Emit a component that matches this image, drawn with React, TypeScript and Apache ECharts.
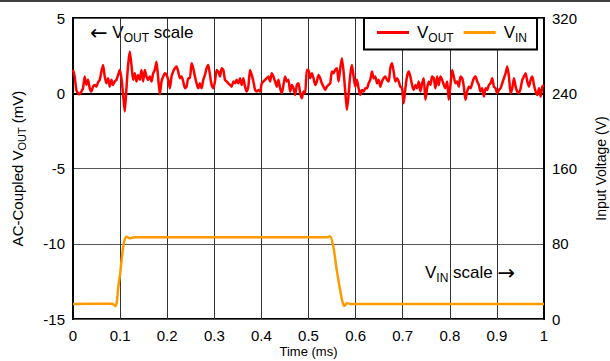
import React, { useEffect, useRef } from "react";
import * as echarts from "echarts";

// Time axis (ms)
const X_MIN = 0;
const X_MAX = 1;
const X_STEP = 0.1;
const X_TITLE = "Time (ms)";
// Left axis: AC-coupled VOUT (mV)
const VOUT_MIN = -15;
const VOUT_MAX = 5;
const VOUT_STEP = 5;
// Right axis: input voltage (V)
const VIN_MIN = 0;
const VIN_MAX = 320;
const VIN_STEP = 80;

// VOUT samples (mV), uniformly spaced from 0 to 1 ms
const voutSamples: number[] = [
  1.55, 1.11, 0.22, 0.0, -0.07, 0.11, 0.33, 1.11, 0.55, 0.89, 0.33, 0.11, 0.44, 0.55, 0.44, 0.73, 0.89, 1.44, 1.88, 1.11,
  0.66, 1.0, 0.44, 0.89, 0.55, 0.78, 0.89, 1.22, 1.55, 1.0, -0.11, -1.22, 0.33, 1.88, 2.77, 1.88, 0.89, 1.33, 0.78, 1.22,
  0.89, 1.55, 0.78, 1.55, 1.11, 0.89, 1.11, 0.78, 1.33, 1.55, 2.1, 1.0, -0.07, 0.78, 1.11, 1.33, 1.22, 0.89, 0.33, 1.11,
  1.44, 1.66, 1.77, 1.44, 1.0, 1.11, 0.78, 0.33, 0.44, 1.0, 1.0, 1.99,
  1.66, 1.11, 0.66, 0.33, 0.66, 0.33, 0.89, 1.22, 1.66, 1.88, 1.22, 0.55, 0.33, 0.78, 1.55, 1.44, 1.11, 1.66, 1.55, 0.89,
  0.78, 0.66, 0.55, 0.44, 0.78, 0.66, 0.89, 0.66, 1.0, 0.55, 1.0, 0.44, 0.11, 0.44, 1.55, 1.22, 0.78, 0.22, 0.11, 0.22,
  0.11, 0.66, 0.78, 0.89, 1.0, 1.11, 0.78, 1.33, 1.11, 0.78, 0.44, 0.89, 0.33, 0.0, 0.55, 1.11, 0.78, 0.89, 0.11, 0.55,
  0.33, -0.11, 0.55, 0.66, 0.0, -0.33, 0.11, 0.0, 1.55, 1.55, 1.0,
  1.33, 1.0, 0.55, 0.78, 1.22, 1.0, 0.66, 0.44, 0.22, 0.44, 0.55, 0.66, 1.44, 1.33, 1.55, 1.66, 0.78, 1.66, 2.33, 1.44,
  0.11, -1.11, -0.11, 1.22, 1.88, 1.11, 0.44, 0.89, 0.33, -0.11, 0.22, 0.11, 0.33, 0.33, 0.66, 0.89, 1.44, 1.0, 1.11, 0.66,
  0.89, 0.44, 0.78, 1.0, 1.11, 0.89, 0.78, 1.66, 1.99, 1.44, 0.78, 1.0, 0.78, 0.44, 0.33, -0.66, 0.33, 1.11, 1.44, 1.11,
  0.55, 0.22, 0.55, 0.33, 0.78, 0.11, 0.66, 1.0, -0.44, 0.33,
  0.78, 0.55, 1.11, 1.0, 0.33, 1.11, 0.55, 1.11, 0.89, 0.55, 0.33, 0.78, -0.44, 0.55, 1.55, 1.11, 0.66, 0.78, 0.44, 1.11,
  1.0, 0.44, -0.44, 0.11, 0.44, 0.33, 0.66, 1.0, 1.11, 0.78, 0.55, 0.11, 0.33, -0.22, 0.33, 0.22, 0.55, 0.66, 1.0, 0.44,
  0.33, 0.0, 0.22, 0.33, 0.66, 1.0, 1.33, 1.77, 1.11, 0.0, 0.33, 1.0, 0.44, 0.11, 0.0, 0.33, 0.89, 1.11, 1.33, 0.78,
  0.44, 0.89, 1.11, 0.55, 0.11, -0.11, 0.33, -0.22, 0.44, 0.55,
];

// VIN waveform: time (ms) and voltage (V)
const vinTime: number[] = [
  0, 0.08, 0.086, 0.09, 0.093, 0.0962, 0.1, 0.1033, 0.108, 0.1137, 0.1208, 0.13, 0.3, 0.5, 0.54, 0.5456, 0.5527,
  0.56, 0.5705, 0.576, 0.5815, 0.59, 1.0,
];
const vinVolts: number[] = [
  16, 16.2, 15.5, 13.8, 18, 34, 48, 63, 81, 87.5, 85.8, 86.8, 86.9, 86.9, 87, 88, 77, 52, 22, 13.8, 16.7, 16,
  16,
];

const FONT = "'Liberation Sans', Arial, Helvetica, sans-serif";

export default function App() {
  const ref = useRef<HTMLDivElement>(null);

  useEffect(() => {
    if (!ref.current) return;
    const chart = echarts.init(ref.current, undefined, { renderer: "svg" });
    const step = (X_MAX - X_MIN) / (voutSamples.length - 1);
    const voutData = voutSamples.map((v, i) => [X_MIN + i * step, v]);
    const vinData = vinTime.map((t, i) => [t, vinVolts[i]]);

    const subRich = {
      a: { fontSize: 21, fontFamily: "'DejaVu Sans', sans-serif", color: "#000", lineHeight: 22, verticalAlign: "middle" },
      v: { fontSize: 17, fontFamily: FONT, color: "#000", lineHeight: 22, verticalAlign: "middle" },
      s: { fontSize: 12, fontFamily: FONT, color: "#000", lineHeight: 12, verticalAlign: "bottom" },
    };

    chart.setOption({
      animation: false,
      backgroundColor: "#fff",
      textStyle: { fontFamily: FONT },
      grid: {
        left: 73,
        right: 66,
        top: 18,
        bottom: 42,
        containLabel: false,
        outerBoundsMode: "none",
        show: true,
        borderColor: "#000",
        borderWidth: 2,
        backgroundColor: "transparent",
      },
      legend: {
        left: 364,
        top: 18,
        padding: [6, 10, 6, 13],
        itemWidth: 32,
        itemHeight: 3,
        itemGap: 10,
        icon: "rect",
        backgroundColor: "#fff",
        borderColor: "#000",
        borderWidth: 2,
        borderRadius: 0,
        data: ["VOUT", "VIN"],
        formatter: (name: string) => (name === "VOUT" ? "{v|V}{s|OUT}" : "{v|V}{s|IN}"),
        textStyle: { rich: subRich, padding: [0, 0, 0, 3] },
      },
      xAxis: {
        type: "value",
        min: X_MIN,
        max: X_MAX,
        interval: X_STEP,
        axisLine: { show: true, lineStyle: { color: "#000", width: 2 } },
        axisTick: { show: false },
        axisLabel: { fontSize: 15, color: "#000", margin: 9, fontFamily: FONT, lineHeight: 15 },
        splitLine: { show: true, lineStyle: { color: "#333", width: 1 } },
      },
      yAxis: [
        {
          type: "value",
          min: VOUT_MIN,
          max: VOUT_MAX,
          interval: VOUT_STEP,
          position: "left",
          name: "{n|AC-Coupled V}{s|OUT}{n| (mV)}",
          nameLocation: "middle",
          nameRotate: 90,
          nameGap: 46,
          nameTextStyle: {
            rich: {
              n: { fontSize: 15, fontFamily: FONT, color: "#000", lineHeight: 19, verticalAlign: "middle" },
              s: { fontSize: 11, fontFamily: FONT, color: "#000", lineHeight: 11, verticalAlign: "bottom" },
            },
          },
          axisLine: { show: true, lineStyle: { color: "#000", width: 2 } },
          axisTick: { show: false },
          axisLabel: { fontSize: 15, color: "#000", margin: 8, fontFamily: FONT },
          splitLine: { show: true, lineStyle: { color: "#555", width: 1 } },
        },
        {
          type: "value",
          min: VIN_MIN,
          max: VIN_MAX,
          interval: VIN_STEP,
          position: "right",
          name: "Input Voltage (V)",
          nameLocation: "middle",
          nameRotate: 90,
          nameGap: 50,
          nameTextStyle: { fontSize: 14, color: "#000", fontFamily: FONT },
          axisLine: { show: true, lineStyle: { color: "#000", width: 2 } },
          axisTick: { show: false },
          axisLabel: { fontSize: 15, color: "#000", margin: 8, fontFamily: FONT },
          splitLine: { show: false },
        },
      ],
      series: [
        {
          name: "VOUT",
          type: "line",
          yAxisIndex: 0,
          data: voutData,
          symbol: "none",
          smooth: 0.2,
          lineStyle: { color: "#ff0000", width: 2.5 },
          itemStyle: { color: "#ff0000" },
          z: 3,
        },
        {
          name: "VIN",
          type: "line",
          yAxisIndex: 1,
          data: vinData,
          symbol: "none",
          smooth: 0.3,
          lineStyle: { color: "#ff9900", width: 2.5 },
          itemStyle: { color: "#ff9900" },
          z: 2,
        },
      ],
      graphic: [
        {
          type: "line",
          shape: { x1: 0, y1: 1, x2: 610, y2: 1 },
          style: { stroke: "#000", lineWidth: 1.5 },
          silent: true,
        },
        {
          type: "text",
          x: 308.5,
          y: 345,
          style: {
            text: X_TITLE,
            fontSize: 13,
            fontFamily: FONT,
            fill: "#000",
            align: "center",
            verticalAlign: "top",
          },
          silent: true,
        },
        {
          type: "text",
          left: 90,
          top: 22,
          style: {
            text: "{a|\u2190}{v| V}{s|OUT}{v| scale}",
            rich: subRich,
          },
          silent: true,
        },
        {
          type: "text",
          left: 425,
          top: 262,
          style: {
            text: "{v|V}{s|IN}{v| scale }{a|\u2192}",
            rich: subRich,
          },
          silent: true,
        },
      ],
    });
    return () => chart.dispose();
  }, []);

  return (
    <div
      ref={ref}
      style={{ position: "fixed", left: 0, top: 0, width: 610, height: 361, background: "#fff" }}
    />
  );
}
